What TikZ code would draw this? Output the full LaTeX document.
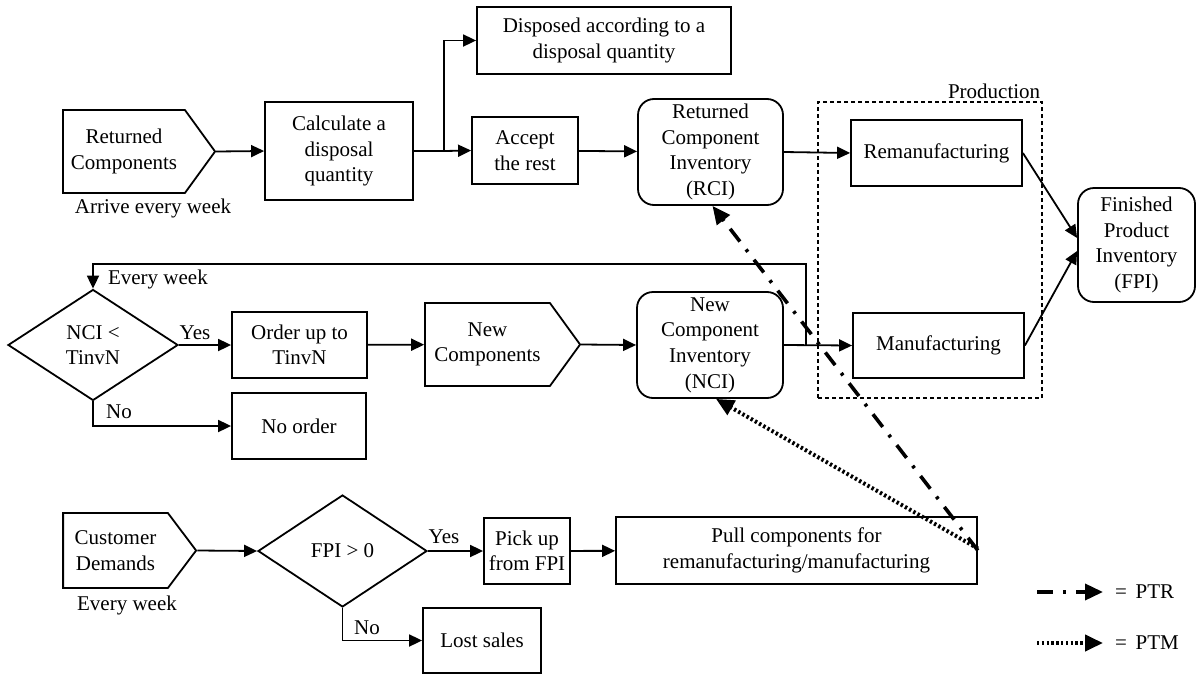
\documentclass[tikz,border=0pt]{standalone}
\usepackage{fontspec}
\setmainfont{Liberation Serif}
\usetikzlibrary{arrows.meta,shapes.geometric,shapes.symbols}
\tikzset{%
  tipA/.tip={Triangle[length=6.5pt,width=6pt]},
  tipB/.tip={Triangle[length=9pt,width=8pt]},
  box/.style={draw, line width=0.9pt, align=center, inner sep=0pt},
  rbox/.style={box, rounded corners=8pt},
  pent/.style={box, signal, signal to=east, signal pointer angle=108},
  decision/.style={box, diamond},
  flow/.style={line width=0.9pt, -tipA},
  ptr/.style={line width=1.8pt, -tipB, dash pattern=on 8pt off 5pt on 1.5pt off 5pt},
  ptm/.style={line width=2pt, -tipB, dash pattern=on 1.2pt off 1.2pt},
}

\begin{document}
\begin{tikzpicture}[x=0.5pt,y=-0.5pt,font=\fontsize{10.5pt}{12.8pt}\selectfont]
\useasboundingbox (0,0) rectangle (1196,675);
% returned components
\node[pent, minimum width=76pt, minimum height=41.5pt] (ret) at (124,151.5) {Returned\\Components};
\node (arrive) at (153,208) {Arrive every week};
\node[box, minimum width=74pt, minimum height=49pt] (calc) at (339,151) {Calculate a\\disposal\\quantity};
\node[box, minimum width=127pt, minimum height=33.5pt] (disp) at (604,40.5) {Disposed according to a\\disposal quantity};
\node[box, minimum width=53pt, minimum height=33.5pt] (accept) at (525,150.5) {Accept\\the rest};
\node[rbox, minimum width=72.5pt, minimum height=53pt] (rci) at (710.5,152) {Returned\\Component\\Inventory\\(RCI)};
% production
\node[draw, line width=0.6pt, dash pattern=on 2pt off 1.5pt, minimum width=112pt, minimum height=148pt] (prod) at (930,250) {};
\node[anchor=south east, inner sep=1pt] (prodL) at (prod.north east) {Production};
\node[box, minimum width=85.5pt, minimum height=33pt] (reman) at (936.5,153) {Remanufacturing};
\node[box, minimum width=85.5pt, minimum height=32.5pt] (manuf) at (938.5,345.5) {Manufacturing};
\node[rbox, minimum width=58.5pt, minimum height=57pt] (fpi) at (1136.5,245) {Finished\\Product\\Inventory\\(FPI)};
% new components
\node[decision, minimum width=85pt, minimum height=55.5pt] (ncid) at (93,345) {NCI <\\TinvN};
\node[anchor=west] (ew1) at (101,279) {Every week};
\node[box, minimum width=67.5pt, minimum height=33pt] (order) at (299.5,345) {Order up to\\TinvN};
\node[box, minimum width=67pt, minimum height=33pt] (noorder) at (299,426) {No order};
\node[pent, minimum width=77.5pt, minimum height=41.5pt] (newc) at (487.5,344.5) {New\\Components};
\node[rbox, minimum width=73pt, minimum height=53pt] (nci) at (710,345) {New\\Component\\Inventory\\(NCI)};
\node (yes1) at (195,333) {Yes};
\node (no1) at (119,412) {No};
% customer demands
\node[pent, minimum width=66.5pt, minimum height=37.5pt, signal pointer angle=106] (cust) at (115.5,550.5) {Customer\\Demands};
\node (ew2) at (127,605) {Every week};
\node[decision, minimum width=84.5pt, minimum height=56pt] (fpid) at (342.5,551) {FPI > 0};
\node[box, minimum width=43pt, minimum height=33pt] (pick) at (527,551) {Pick up\\from FPI};
\node[box, minimum width=180.5pt, minimum height=33.5pt] (pull) at (796.5,550.5) {Pull components for\\remanufacturing/manufacturing};
\node[box, minimum width=59pt, minimum height=32.5pt] (lost) at (482,640.5) {Lost sales};
\node (yes2) at (444,537) {Yes};
\node (no2) at (367,628) {No};

\coordinate (split) at (444,151);
\draw[line width=0.9pt] (calc.east) -- (split);
\draw[flow] (ret.east) -- (calc.west);
\draw[flow] (split) -- (accept.west);
\draw[flow] (split) |- (disp.west);
\draw[flow] (accept) -- (rci);
\draw[flow] (rci.east) -- (reman.west);
\draw[flow] (reman.east) -- ([yshift=3.5pt]fpi.west);
\draw[flow] (manuf.east) -- ([yshift=-3pt]fpi.west);
\draw[flow] (ncid.east) -- (order.west);
\draw[flow] (order) -- (newc);
\draw[flow] (newc.east) -- (nci.west);
\draw[flow] (nci.east) -- (manuf.west);
\coordinate (fb) at (806,345);
\draw[flow] (fb) -- ++(0,-81) -| (ncid.north);
\draw[flow] (ncid.south) |- (noorder.west);
\draw[flow] (cust.east) -- (fpid.west);
\draw[flow] (fpid.east) -- (pick.west);
\draw[flow] (pick) -- (pull);
\draw[flow] (fpid.south) |- (lost.west);
\draw[ptr] (pull.east) -- ([xshift=1pt]rci.south);
\draw[ptm] ([yshift=1pt]pull.east) -- ([xshift=3pt]nci.south);
% legend
\coordinate (ptrA) at (1037,592);
\coordinate (ptrB) at (1103,592);
\draw[ptr] (ptrA) -- (ptrB);
\node[anchor=west] (ptrL) at (1108,592) {= \,PTR};
\coordinate (ptmA) at (1037,643);
\coordinate (ptmB) at (1103,643);
\draw[ptm] (ptmA) -- (ptmB);
\node[anchor=west] (ptmL) at (1108,643) {= \,PTM};
\end{tikzpicture}
\end{document}
